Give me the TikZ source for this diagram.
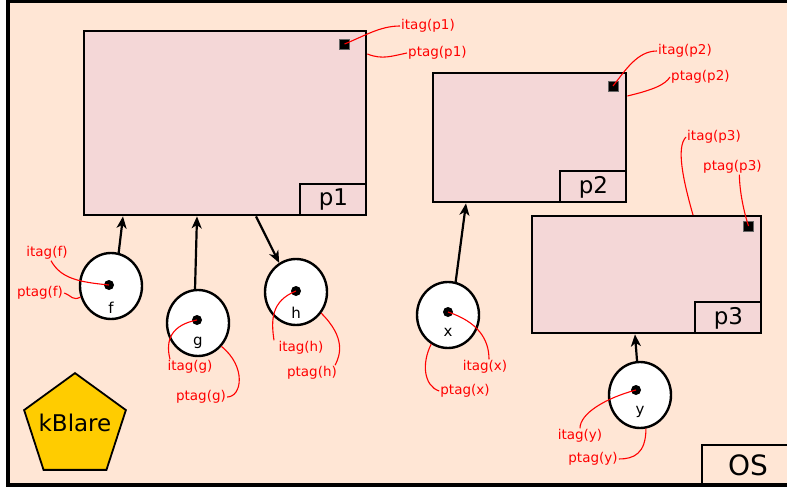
\documentclass[tikz,border=0pt]{standalone}
\usepackage{fontspec}
\setmainfont{DejaVu Sans}
\usetikzlibrary{shapes.geometric,arrows.meta}
\definecolor{osbg}{RGB}{255,230,213}
\definecolor{procfill}{RGB}{244,215,215}
\definecolor{kblare}{RGB}{255,204,0}
\begin{document}
\begin{tikzpicture}[x=1pt,y=-1pt,
    proc/.style={draw,line width=2.4pt,fill=procfill,inner sep=0,anchor=north west},
    pname/.style={draw,line width=2pt,fill=procfill,anchor=south east,
      minimum width=66,minimum height=31,inner sep=0,font=\fontsize{23}{26}\selectfont},
    tagsq/.style={fill=black,draw=black!60,minimum size=10,inner sep=0},
    obj/.style={ellipse,draw,line width=2.4pt,fill=white,minimum width=62,
      minimum height=66,inner sep=0},
    objdot/.style={circle,fill=black,minimum size=10,inner sep=0},
    objname/.style={font=\fontsize{15}{17}\selectfont,inner sep=0},
    tag/.style={red,font=\fontsize{13.5}{15}\selectfont,inner sep=1pt},
    tagline/.style={red,line width=1.1pt},
    arr/.style={line width=2.2pt,-{Stealth[length=12pt,width=10pt,inset=3.5pt]}}]
  \useasboundingbox (0,0) rectangle (787,487);
  % OS
  \draw[line width=3.5pt,fill=osbg] (8,1.5) rectangle (792,485);
  \node[draw,line width=2.4pt,minimum width=92,minimum height=40,inner sep=0,
    font=\fontsize{28}{30}\selectfont] (os) at (748,465) {OS};
  % processes
  \node[proc,minimum width=282,minimum height=184] (p1) at (83,30) {};
  \node[pname] (p1n) at (p1.south east) {p1};
  \node[tagsq] (p1i) at (344.5,44) {};
  \node[proc,minimum width=193,minimum height=129] (p2) at (432,72) {};
  \node[pname] (p2n) at (p2.south east) {p2};
  \node[tagsq] (p2i) at (613,86) {};
  \node[proc,minimum width=229,minimum height=117] (p3) at (531,215) {};
  \node[pname] (p3n) at (p3.south east) {p3};
  \node[tagsq] (p3i) at (748.5,226) {};
  % objects
  \foreach \o/\cx/\cy/\dx/\dy/\ly in {f/111/286/109/285/308,g/198/323/197/320/343,
    h/296/292/296/291/313,x/448/315/448/312/332,y/640/395/636/390/412}{
    \node[obj] (\o) at (\cx,\cy) {};
    \node[objdot] (\o d) at (\dx,\dy) {};
    \node[objname] (\o n) at (\cx,\ly) {\o};
  }
  % flows
  \draw[arr] (f.77) -- ([xshift=40pt]p1.south west);
  \draw[arr] (g.95) -- ([xshift=114pt]p1.south west);
  \draw[arr] ([xshift=173pt]p1.south west) -- (h.120);
  \draw[arr] (x.77) -- ([xshift=34pt]p2.south west);
  \draw[arr] (y.95) -- ([xshift=104pt]p3.south west);
  % kBlare
  \node[regular polygon,regular polygon sides=5,draw,line width=1.8pt,fill=kblare,
    minimum size=107,inner sep=0] (kb) at (75,426.6) {};
  \node[font=\fontsize{23}{25}\selectfont] (kbn) at (75,423) {kBlare};
  % tags
  \node[tag,anchor=west] (itp1) at (400,26) {itag(p1)};
  \node[tag,anchor=west] (ptp1) at (407,53) {ptag(p1)};
  \node[tag,anchor=west] (itp2) at (657,51) {itag(p2)};
  \node[tag,anchor=west] (ptp2) at (670,77) {ptag(p2)};
  \node[tag,anchor=west] (itp3) at (686,137) {itag(p3)};
  \node[tag,anchor=west] (ptp3) at (702,167) {ptag(p3)};
  \node[tag] (itf) at (47,253) {itag(f)};
  \node[tag] (ptf) at (40,293) {ptag(f)};
  \node[tag] (itg) at (190,367) {itag(g)};
  \node[tag] (ptg) at (201,397) {ptag(g)};
  \node[tag] (ith) at (301,348) {itag(h)};
  \node[tag] (pth) at (312,373) {ptag(h)};
  \node[tag] (itx) at (485,367) {itag(x)};
  \node[tag] (ptx) at (465,391) {ptag(x)};
  \node[tag] (ity) at (580,436) {itag(y)};
  \node[tag] (pty) at (593,459) {ptag(y)};
  \draw[tagline] (p1i.center) .. controls +(20,-8) and +(-20,0) .. (itp1.west);
  \draw[tagline] ([yshift=-24pt]p1.north east) .. controls +(15,6) and +(-15,3) .. (ptp1.west);
  \draw[tagline] (p2i.center) .. controls +(12,-15) and +(-20,0) .. (itp2.west);
  \draw[tagline] ([yshift=-24pt]p2.north east) .. controls +(25,-6) and +(-5,8) .. (ptp2.west);
  \draw[tagline] ([xshift=162pt]p3.north west) .. controls +(-10,-35) and +(-10,10) .. (itp3.west);
  \draw[tagline] (p3i.center) .. controls +(-5,-15) and +(0,15) .. ([xshift=7pt]ptp3.south);
  \draw[tagline] ([xshift=4pt]itf.south) .. controls +(10,18) and +(-30,-3) .. (fd.center);
  \draw[tagline] (ptf.east) .. controls +(8,3) and +(-8,4) .. (f.200);
  \draw[tagline] (gd.center) .. controls +(-25,5) and +(-5,-20) .. ([xshift=-20pt]itg.north);
  \draw[tagline] (g.-45) .. controls +(25,20) and +(15,0) .. (ptg.east);
  \draw[tagline] (hd.center) .. controls +(-25,10) and +(-3,-20) .. ([xshift=-27pt]ith.north);
  \draw[tagline] (h.-40) .. controls +(25,25) and +(5,-10) .. ([xshift=-3pt]pth.north east);
  \draw[tagline] (xd.center) .. controls +(30,10) and +(0,-20) .. ([xshift=4pt]itx.north);
  \draw[tagline] (x.240) .. controls +(-10,20) and +(-15,-5) .. (ptx.west);
  \draw[tagline] (yd.center) .. controls +(-30,8) and +(0,-15) .. (ity.north);
  \draw[tagline] (y.-80) .. controls +(0,25) and +(15,0) .. (pty.east);
\end{tikzpicture}
\end{document}
